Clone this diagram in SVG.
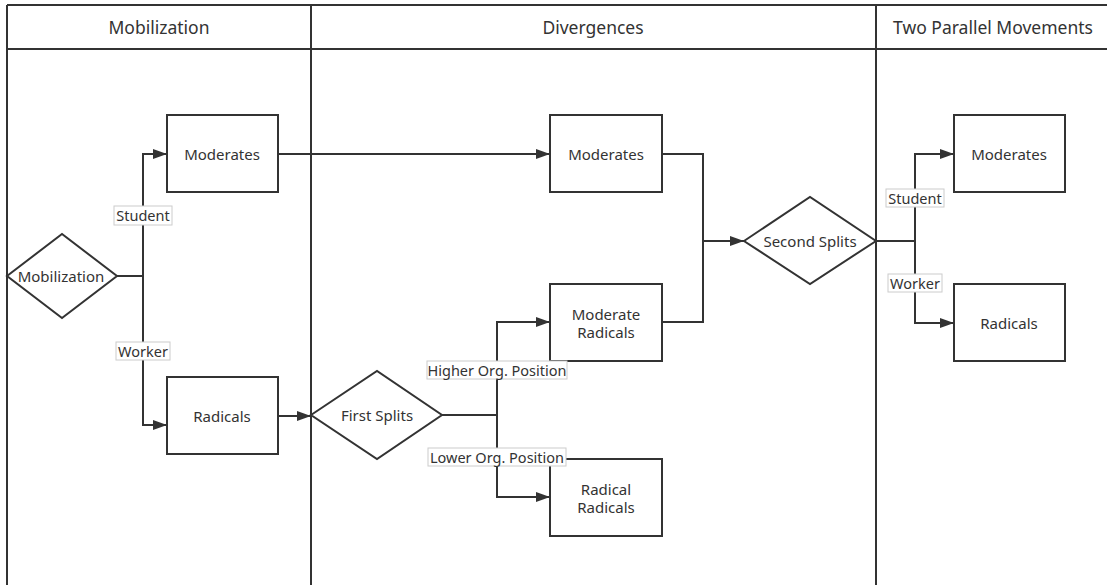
<svg xmlns="http://www.w3.org/2000/svg" width="1107" height="585" viewBox="0 0 1107 585">
<defs>
<marker id="arr" viewBox="0 0 14 10" refX="14" refY="5" markerWidth="14" markerHeight="10" markerUnits="userSpaceOnUse" orient="auto">
<path d="M0,0 L14,5 L0,10 Z" fill="#333"/>
</marker>
<style>
.lane{fill:none;stroke:#333;stroke-width:2}
.shape{fill:#fff;stroke:#333;stroke-width:2}
.edge{fill:none;stroke:#333;stroke-width:2}
.hdr{font-family:"Noto Sans","Open Sans",sans-serif;font-size:17.5px;fill:#333;text-anchor:middle;dominant-baseline:central}
.txt{font-family:"Noto Sans","Open Sans",sans-serif;font-size:15px;fill:#333;text-anchor:middle;dominant-baseline:central}
.lbl{font-family:"Noto Sans","Open Sans",sans-serif;font-size:14.5px;fill:#333;text-anchor:middle;dominant-baseline:central}
.lblbg{fill:#fff;stroke:#ccc;stroke-width:1}
</style>
</defs>
<rect width="1107" height="585" fill="#fff"/>
<g id="lanes">
<line class="lane" x1="7" y1="5" x2="1107" y2="5"/>
<line class="lane" x1="7" y1="49" x2="1107" y2="49"/>
<line class="lane" x1="7" y1="5" x2="7" y2="585"/>
<line class="lane" x1="311" y1="5" x2="311" y2="585"/>
<line class="lane" x1="876" y1="5" x2="876" y2="585"/>
<text class="hdr" x="159" y="27">Mobilization</text>
<text class="hdr" x="593" y="27">Divergences</text>
<text class="hdr" x="993" y="27">Two Parallel Movements</text>
</g>
<g id="connectors">
<polyline class="edge" points="117,276 143,276 143,154 167,154" marker-end="url(#arr)"/>
<polyline class="edge" points="143,276 143,425 167,425" marker-end="url(#arr)"/>
<polyline class="edge" points="278,416 311,416" marker-end="url(#arr)"/>
<polyline class="edge" points="278,154 550,154" marker-end="url(#arr)"/>
<polyline class="edge" points="442,415 497,415 497,322 550,322" marker-end="url(#arr)"/>
<polyline class="edge" points="497,415 497,497 550,497" marker-end="url(#arr)"/>
<polyline class="edge" points="662,154 703,154 703,241 744,241" marker-end="url(#arr)"/>
<polyline class="edge" points="662,322 703,322 703,241"/>
<polyline class="edge" points="876,241 915,241 915,154 954,154" marker-end="url(#arr)"/>
<polyline class="edge" points="915,241 915,323 954,323" marker-end="url(#arr)"/>
</g>
<g id="n-mobilization">
<polygon class="shape" points="7,276 62,234 117,276 62,318"/>
<text class="txt" x="61" y="276">Mobilization</text>
</g>
<g id="n-moderates1">
<rect class="shape" x="167" y="115" width="111" height="77"/>
<text class="txt" x="222" y="154">Moderates</text>
</g>
<g id="n-radicals1">
<rect class="shape" x="167" y="377" width="111" height="77"/>
<text class="txt" x="222" y="416">Radicals</text>
</g>
<g id="n-moderates2">
<rect class="shape" x="550" y="115" width="112" height="77"/>
<text class="txt" x="606" y="154">Moderates</text>
</g>
<g id="n-firstsplits">
<polygon class="shape" points="311,415 377,371 442,415 377,459"/>
<text class="txt" x="377" y="415">First Splits</text>
</g>
<g id="n-modrad">
<rect class="shape" x="550" y="284" width="112" height="77"/>
<text class="txt" x="606" y="314">Moderate</text>
<text class="txt" x="606" y="332">Radicals</text>
</g>
<g id="n-radrad">
<rect class="shape" x="550" y="459" width="112" height="77"/>
<text class="txt" x="606" y="489">Radical</text>
<text class="txt" x="606" y="507">Radicals</text>
</g>
<g id="n-secondsplits">
<polygon class="shape" points="744,241 810,197 876,241 810,284"/>
<text class="txt" x="810" y="241">Second Splits</text>
</g>
<g id="n-moderates3">
<rect class="shape" x="954" y="115" width="111" height="77"/>
<text class="txt" x="1009" y="154">Moderates</text>
</g>
<g id="n-radicals3">
<rect class="shape" x="954" y="284" width="111" height="77"/>
<text class="txt" x="1009" y="323">Radicals</text>
</g>
<g id="connector-labels">
<rect class="lblbg" x="114" y="206" width="58" height="19"/>
<text class="lbl" x="143" y="215">Student</text>
<rect class="lblbg" x="116" y="342" width="54" height="18"/>
<text class="lbl" x="143" y="351">Worker</text>
<rect class="lblbg" x="427" y="361" width="140" height="18"/>
<text class="lbl" x="497" y="370">Higher Org. Position</text>
<rect class="lblbg" x="428" y="448" width="138" height="18"/>
<text class="lbl" x="497" y="457">Lower Org. Position</text>
<rect class="lblbg" x="886" y="189" width="58" height="18"/>
<text class="lbl" x="915" y="198">Student</text>
<rect class="lblbg" x="888" y="274" width="54" height="18"/>
<text class="lbl" x="915" y="283">Worker</text>
</g>
</svg>
